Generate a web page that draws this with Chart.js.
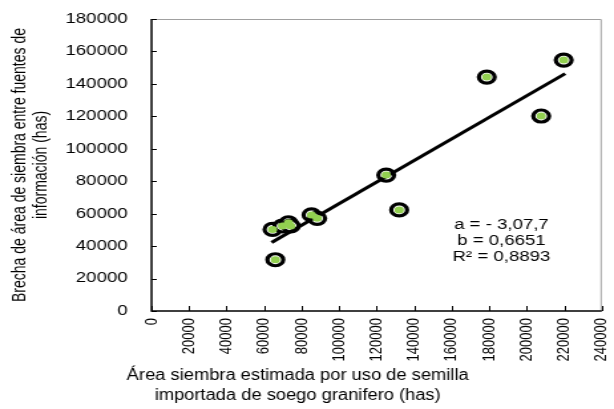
<!DOCTYPE html>
<html>
<head>
<meta charset="utf-8">
<script src="https://cdn.jsdelivr.net/npm/chart.js@4/dist/chart.umd.min.js"></script>
<style>
  html, body { margin: 0; padding: 0; background: #fff; overflow: hidden; }
  #wrap {
    position: absolute; left: 0; top: 0;
    width: 462px; height: 409px;
    transform: scaleX(1.329); transform-origin: 0 0;
  }
</style>
</head>
<body>
<div id="wrap"><canvas id="c"></canvas></div>
<script>
// Área estimada por semilla importada (x) vs brecha entre fuentes (y), en hectáreas
const areaSemilla = [219700, 178700, 207700, 125100, 132000, 85300, 88300, 64500, 69800, 73000, 74200, 66000];
const brechaArea  = [154700, 144200, 120200, 83800, 62300, 59200, 57100, 50300, 52400, 54400, 52400, 31600];

// Recta de ajuste lineal y = a + b·x
const coefA = -307.7;
const coefB = 0.6651;
const trendRange = [64000, 220500];

const xTicks = { min: 0, max: 240000, step: 20000 };
const yTicks = { min: 0, max: 180000, step: 20000 };

const annotationLines = ['a = - 3,07,7', 'b = 0,6651', 'R² = 0,8893'];
const xTitleLines = ['Área siembra estimada por uso de semilla', 'importada de soego granifero (has)'];

const FONT = '"Liberation Sans", Arial, sans-serif';

const points = areaSemilla.map((x, i) => ({ x, y: brechaArea[i] }));
const trendPoints = trendRange.map(x => ({ x, y: coefA + coefB * x }));

// Marco del área de gráfico, marcas de escala hacia adentro, título del eje X y texto de la regresión
const frameAndTicks = {
  id: 'frameAndTicks',
  beforeDatasetsDraw(chart) {
    const { ctx, chartArea: a, scales } = chart;
    ctx.save();
    ctx.strokeStyle = '#a0a0a0';
    ctx.lineWidth = 1;
    ctx.beginPath();
    ctx.moveTo(a.left, a.top + 0.5);
    ctx.lineTo(a.right - 0.5, a.top + 0.5);
    ctx.lineTo(a.right - 0.5, a.bottom);
    ctx.stroke();

    ctx.strokeStyle = '#000';
    ctx.lineWidth = 1.5;
    ctx.beginPath();
    ctx.moveTo(a.left, a.top);
    ctx.lineTo(a.left, a.bottom);
    ctx.lineTo(a.right, a.bottom);
    ctx.stroke();

    ctx.lineWidth = 1;
    ctx.beginPath();
    scales.y.ticks.forEach(t => {
      const py = Math.round(scales.y.getPixelForValue(t.value)) + 0.5;
      ctx.moveTo(a.left, py);
      ctx.lineTo(a.left + 4, py);
    });
    scales.x.ticks.forEach(t => {
      const px = Math.round(scales.x.getPixelForValue(t.value)) + 0.5;
      ctx.moveTo(px, a.bottom);
      ctx.lineTo(px, a.bottom - 5);
    });
    ctx.stroke();
    ctx.restore();
  },
  afterDraw(chart) {
    const { ctx, scales } = chart;
    const cx = scales.x.getPixelForValue(186500);
    const cy = scales.y.getPixelForValue(43300);
    ctx.save();
    ctx.fillStyle = '#000';
    ctx.font = '14px ' + FONT;
    ctx.textAlign = 'center';
    ctx.textBaseline = 'middle';
    annotationLines.forEach((line, i) => {
      ctx.fillText(line, cx, cy + (i - 1) * 16);
    });
    ctx.restore();

    // título del eje X, en letra algo más alta y angosta
    ctx.save();
    ctx.fillStyle = '#000';
    ctx.font = '16px ' + FONT;
    ctx.textAlign = 'center';
    ctx.textBaseline = 'alphabetic';
    ctx.translate(chart.width / 2 - 7, 0);
    ctx.scale(0.861, 1);
    const base = scales.x.bottom - 29;
    xTitleLines.forEach((line, i) => {
      ctx.fillText(line, 0, base + i * 20);
    });
    ctx.restore();
  }
};

new Chart(document.getElementById('c'), {
  type: 'scatter',
  data: {
    datasets: [
      {
        label: 'centro',
        data: points,
        order: 0,
        pointRadius: 3.5,
        pointHoverRadius: 3.5,
        pointBackgroundColor: '#92D050',
        pointBorderWidth: 0,
        pointBorderColor: '#92D050'
      },
      {
        label: 'ajuste',
        type: 'line',
        data: trendPoints,
        order: 1,
        borderColor: '#000',
        borderWidth: 3,
        pointRadius: 0,
        fill: false
      },
      {
        label: 'contorno',
        data: points,
        order: 2,
        pointRadius: 6,
        pointHoverRadius: 6,
        pointBackgroundColor: '#fff',
        pointBorderColor: '#000',
        pointBorderWidth: 3.2
      }
    ]
  },
  options: {
    responsive: true,
    maintainAspectRatio: false,
    animation: false,
    events: [],
    layout: { padding: { top: 19, right: 6, bottom: 0, left: 0 } },
    plugins: {
      legend: { display: false },
      tooltip: { enabled: false }
    },
    scales: {
      x: {
        type: 'linear',
        min: xTicks.min,
        max: xTicks.max,
        afterFit: s => { s.paddingLeft = 0; s.paddingRight = 0; s.height = 98; },
        grid: { display: false, drawTicks: false },
        border: { display: false },
        ticks: {
          stepSize: xTicks.step,
          autoSkip: false,
          minRotation: 90,
          maxRotation: 90,
          padding: 7,
          color: '#000',
          font: { family: FONT, size: 13 },
          callback: v => String(v)
        },
        title: { display: false }
      },
      y: {
        type: 'linear',
        min: yTicks.min,
        max: yTicks.max,
        afterFit: s => { s.width = 114; s.paddingTop = 0; s.paddingBottom = 0; },
        grid: { display: false, drawTicks: false },
        border: { display: false },
        ticks: {
          stepSize: yTicks.step,
          padding: 18,
          color: '#000',
          font: { family: FONT, size: 14 },
          callback: v => String(v)
        },
        title: {
          display: true,
          text: ['Brecha de área de siembra entre fuentes de', 'información (has)'],
          color: '#000',
          font: { family: FONT, size: 14, lineHeight: 1.15 },
          padding: { top: 7, bottom: 0 }
        }
      }
    }
  },
  plugins: [frameAndTicks]
});
</script>
</body>
</html>
